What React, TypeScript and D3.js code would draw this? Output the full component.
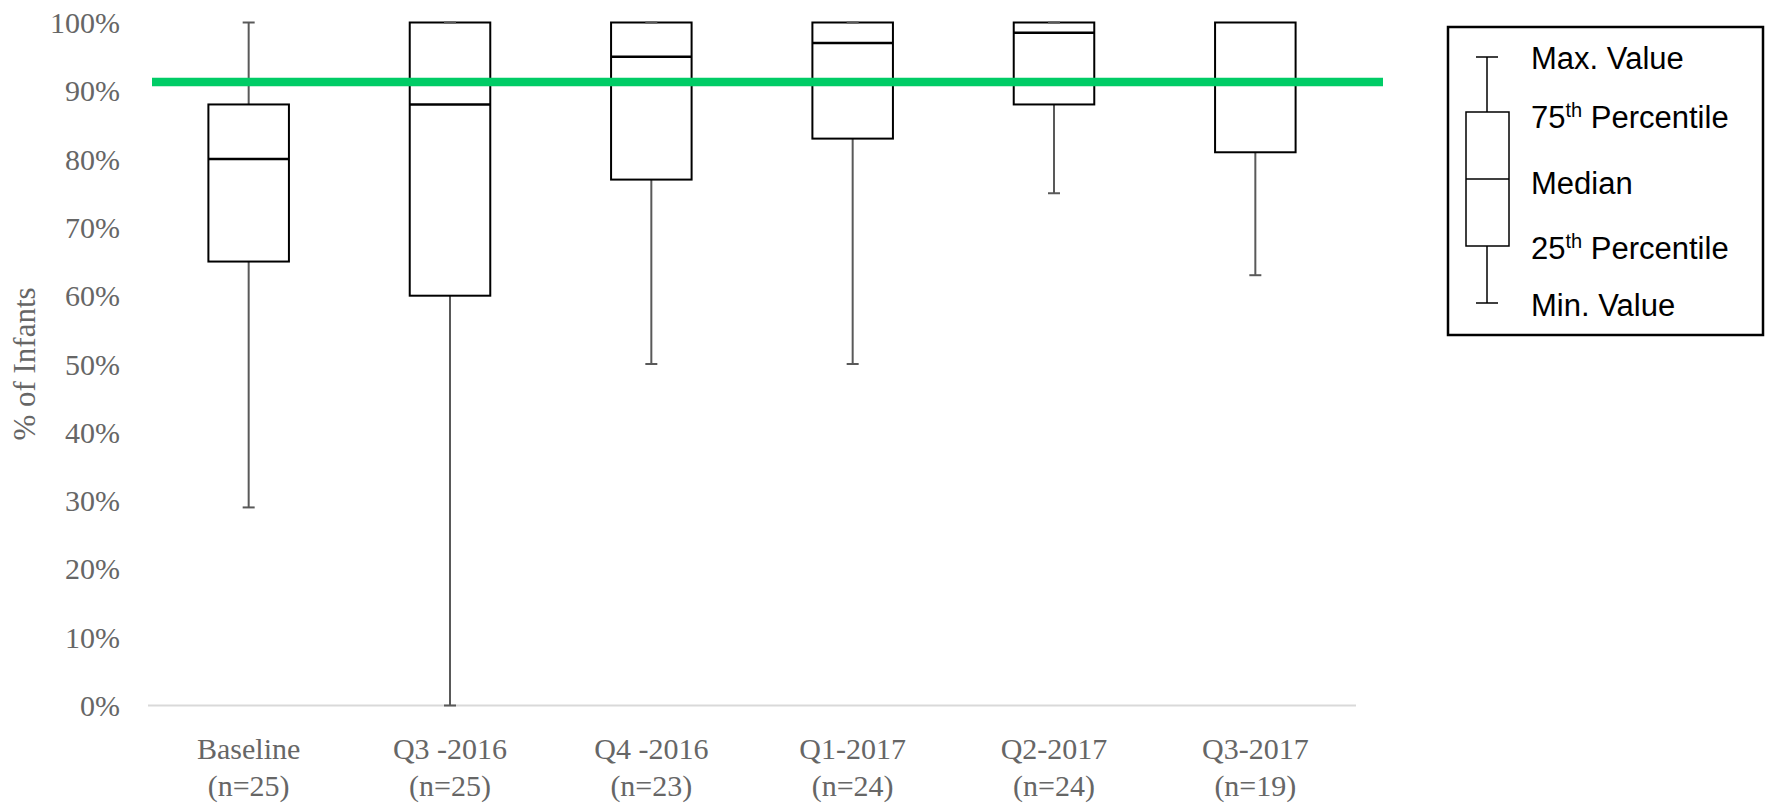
import { useRef, useEffect } from 'react';
import * as d3 from 'd3';

const CATEGORIES = ['Baseline', 'Q3 -2016', 'Q4 -2016', 'Q1-2017', 'Q2-2017', 'Q3-2017'];
const SAMPLE_SIZES = ['(n=25)', '(n=25)', '(n=23)', '(n=24)', '(n=24)', '(n=19)'];
const MIN_VALUES = [29, 0, 50, 50, 75, 63];
const Q1_VALUES = [65, 60, 77, 83, 88, 81];
const MEDIAN_VALUES = [80, 88, 95, 97, 98.5, 100];
const Q3_VALUES = [88, 100, 100, 100, 100, 100];
const MAX_VALUES = [100, 100, 100, 100, 100, 100];
const Y_TICKS = [0, 10, 20, 30, 40, 50, 60, 70, 80, 90, 100];
const TARGET = 91.3;

const WIDTH = 1767;
const HEIGHT = 805;
const PLOT = { left: 148, right: 1356, top: 22.5, bottom: 705.5 };

const SERIF = '"Liberation Serif", "Times New Roman", serif';
const SANS = '"Liberation Sans", Arial, sans-serif';

export default function App() {
  const svgRef = useRef<SVGSVGElement>(null);

  useEffect(() => {
    if (!svgRef.current) return;
    const svg = d3.select(svgRef.current);
    svg.selectAll('*').remove();

    const x = d3.scaleBand<string>().domain(CATEGORIES).range([PLOT.left, PLOT.right]);
    const y = d3.scaleLinear().domain([0, 100]).range([PLOT.bottom, PLOT.top]);
    const boxW = x.bandwidth() * 0.4;
    const capW = 12;

    // y tick labels
    svg.append('g')
      .selectAll('text')
      .data(Y_TICKS)
      .join('text')
      .attr('x', 120)
      .attr('y', d => y(d))
      .attr('dy', '0.35em')
      .attr('text-anchor', 'end')
      .attr('font-family', SERIF)
      .attr('font-size', 30)
      .attr('fill', '#666666')
      .text(d => `${d}%`);

    // y title
    svg.append('text')
      .attr('transform', `translate(24,364) rotate(-90)`)
      .attr('text-anchor', 'middle')
      .attr('dy', '0.35em')
      .attr('font-family', SERIF)
      .attr('font-size', 31)
      .attr('fill', '#666666')
      .text('% of Infants');

    // baseline axis
    svg.append('line')
      .attr('x1', PLOT.left).attr('x2', PLOT.right)
      .attr('y1', y(0)).attr('y2', y(0))
      .attr('stroke', '#d9d9d9').attr('stroke-width', 2);

    const rows = CATEGORIES.map((c, i) => ({
      c, min: MIN_VALUES[i], q1: Q1_VALUES[i], med: MEDIAN_VALUES[i], q3: Q3_VALUES[i], max: MAX_VALUES[i],
    }));

    const g = svg.append('g');
    const cx = (c: string) => (x(c) ?? 0) + x.bandwidth() / 2;

    rows.forEach(r => {
      const mx = cx(r.c);
      // whiskers
      g.append('line').attr('x1', mx).attr('x2', mx).attr('y1', y(r.max)).attr('y2', y(r.q3))
        .attr('stroke', '#595959').attr('stroke-width', 2);
      g.append('line').attr('x1', mx).attr('x2', mx).attr('y1', y(r.q1)).attr('y2', y(r.min))
        .attr('stroke', '#595959').attr('stroke-width', 2);
      g.append('line').attr('x1', mx - capW / 2).attr('x2', mx + capW / 2).attr('y1', y(r.min)).attr('y2', y(r.min))
        .attr('stroke', '#595959').attr('stroke-width', 2);
      // box
      g.append('rect')
        .attr('x', mx - boxW / 2).attr('width', boxW)
        .attr('y', y(r.q3)).attr('height', y(r.q1) - y(r.q3))
        .attr('fill', 'none').attr('stroke', '#000').attr('stroke-width', 2);
      if (r.med < r.q3) {
        g.append('line').attr('x1', mx - boxW / 2).attr('x2', mx + boxW / 2).attr('y1', y(r.med)).attr('y2', y(r.med))
          .attr('stroke', '#000').attr('stroke-width', 2.5);
      }
      // top cap, gray, drawn over the box edge
      if (r.med < r.max) {
        g.append('line').attr('x1', mx - capW / 2).attr('x2', mx + capW / 2).attr('y1', y(r.max)).attr('y2', y(r.max))
          .attr('stroke', '#595959').attr('stroke-width', 2);
      }
    });

    // target line
    svg.append('line')
      .attr('x1', 152).attr('x2', 1383)
      .attr('y1', y(TARGET)).attr('y2', y(TARGET))
      .attr('stroke', '#00cc66').attr('stroke-width', 8.5);

    // x labels
    const xl = svg.append('g')
      .attr('font-family', SERIF).attr('font-size', 30).attr('fill', '#666666').attr('text-anchor', 'middle');
    CATEGORIES.forEach((c, i) => {
      xl.append('text').attr('x', cx(c)).attr('y', 748).attr('dy', '0.35em').text(c);
      xl.append('text').attr('x', cx(c)).attr('y', 785).attr('dy', '0.35em').text(SAMPLE_SIZES[i]);
    });

    // legend
    const lg = svg.append('g');
    lg.append('rect').attr('x', 1448).attr('y', 27).attr('width', 315).attr('height', 308)
      .attr('fill', '#fff').attr('stroke', '#000').attr('stroke-width', 2.5);
    const lx = 1487;
    lg.append('line').attr('x1', lx).attr('x2', lx).attr('y1', 57).attr('y2', 112).attr('stroke', '#000').attr('stroke-width', 1.5);
    lg.append('line').attr('x1', lx).attr('x2', lx).attr('y1', 246).attr('y2', 303).attr('stroke', '#000').attr('stroke-width', 1.5);
    lg.append('line').attr('x1', lx - 11).attr('x2', lx + 11).attr('y1', 57).attr('y2', 57).attr('stroke', '#000').attr('stroke-width', 1.5);
    lg.append('line').attr('x1', lx - 11).attr('x2', lx + 11).attr('y1', 303).attr('y2', 303).attr('stroke', '#000').attr('stroke-width', 1.5);
    lg.append('rect').attr('x', 1466).attr('y', 112).attr('width', 43).attr('height', 134)
      .attr('fill', '#fff').attr('stroke', '#000').attr('stroke-width', 1.5);
    lg.append('line').attr('x1', 1466).attr('x2', 1509).attr('y1', 179).attr('y2', 179).attr('stroke', '#000').attr('stroke-width', 1.5);

    const legendItems = [
      { y: 58, main: 'Max. Value', sup: '', rest: '' },
      { y: 117, main: '75', sup: 'th', rest: ' Percentile' },
      { y: 183, main: 'Median', sup: '', rest: '' },
      { y: 248, main: '25', sup: 'th', rest: ' Percentile' },
      { y: 305, main: 'Min. Value', sup: '', rest: '' },
    ];
    legendItems.forEach(it => {
      const t = lg.append('text').attr('x', 1531).attr('y', it.y).attr('dy', '0.35em')
        .attr('font-family', SANS).attr('font-size', 31).attr('fill', '#000');
      t.append('tspan').text(it.main);
      if (it.sup) {
        t.append('tspan').attr('font-size', 20).attr('dy', '-0.55em').text(it.sup);
        t.append('tspan').attr('dy', '0.35em').attr('font-size', 31).text(it.rest);
      }
    });
  }, []);

  return (
    <svg
      ref={svgRef}
      width={WIDTH}
      height={HEIGHT}
      style={{ position: 'absolute', left: 0, top: 0, background: '#fff' }}
    />
  );
}
